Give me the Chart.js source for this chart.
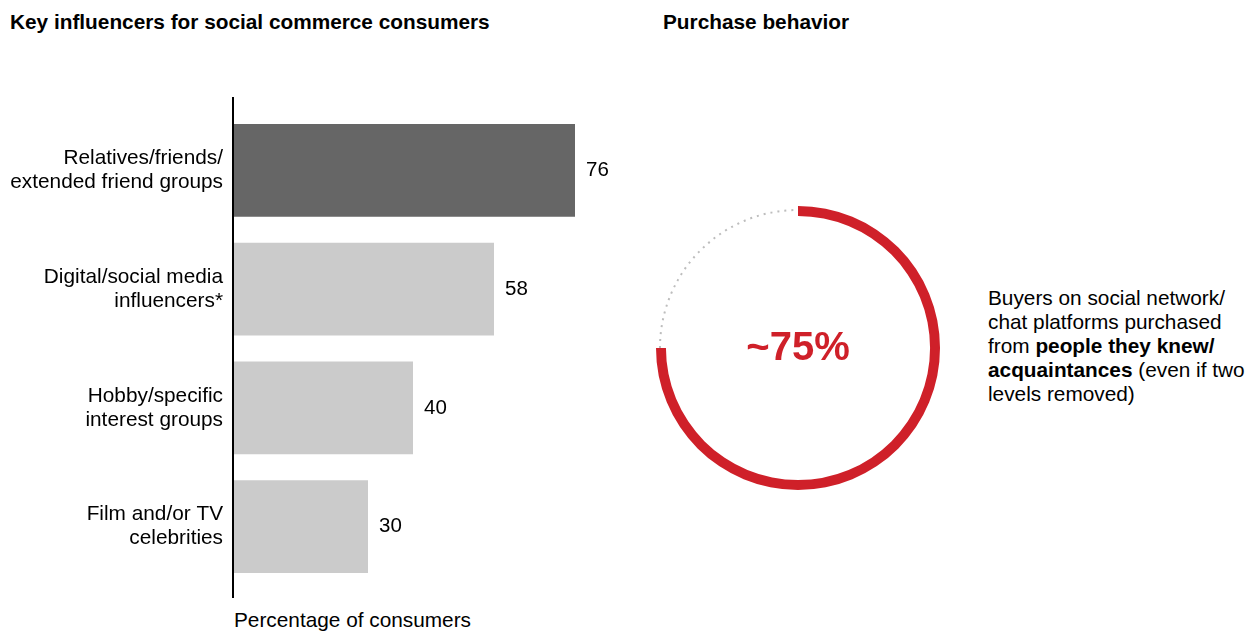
<!DOCTYPE html>
<html>
<head>
<meta charset="utf-8">
<script src="https://cdn.jsdelivr.net/npm/chart.js@4.4.1/dist/chart.umd.min.js"></script>
<style>
    body { margin: 0; background: #fff; width: 1257px; height: 632px; position: relative; overflow: hidden;
           font-family: "Liberation Sans", Arial, sans-serif; color: #000; }
    .txt { position: absolute; font-size: 20.8px; line-height: 24px; white-space: nowrap; }
    .title { font-weight: bold; }
    #barBox { position: absolute; left: 0; top: 0; width: 640px; height: 632px; }
    #ringBox { position: absolute; left: 648px; top: 198px; width: 300px; height: 300px; }
</style>
</head>
<body>
<div class="txt title" style="left:10px; top:10px;">Key influencers for social commerce consumers</div>
<div class="txt title" style="left:663px; top:10px;">Purchase behavior</div>
<div class="txt" style="left:234px; top:608px;">Percentage of consumers</div>
<div class="txt" style="left:988px; top:286px;">Buyers on social network/<br>chat platforms purchased<br>from <b>people they knew/</b><br><b>acquaintances</b> (even if two<br>levels removed)</div>

<div id="barBox"><canvas id="bars"></canvas></div>
<div id="ringBox"><canvas id="ring"></canvas></div>

<script>
const categories = [
    ['Relatives/friends/', 'extended friend groups'],
    ['Digital/social media', 'influencers*'],
    ['Hobby/specific', 'interest groups'],
    ['Film and/or TV', 'celebrities']
];
const shares = [76, 58, 40, 30];
const barColors = ['#666666', '#cbcbcb', '#cbcbcb', '#cbcbcb'];

const ringValues = [75, 25];
const ringLabel = '~75%';

const FONT = '"Liberation Sans", Arial, sans-serif';
const RED = '#cf2029';

// value labels right of each bar + the vertical axis line
const barExtras = {
    id: 'barExtras',
    afterDatasetsDraw(chart) {
        const { ctx, chartArea } = chart;
        const meta = chart.getDatasetMeta(0);
        ctx.save();
        ctx.font = '20.5px ' + FONT;
        ctx.fillStyle = '#000';
        ctx.textAlign = 'left';
        ctx.textBaseline = 'middle';
        meta.data.forEach((bar, i) => {
            ctx.fillText(String(shares[i]), bar.x + 11, bar.y);
        });
        ctx.beginPath();
        ctx.moveTo(chartArea.left, chartArea.top - 14);
        ctx.lineTo(chartArea.left, chartArea.bottom + 12);
        ctx.lineWidth = 2;
        ctx.strokeStyle = '#000';
        ctx.stroke();
        ctx.restore();
    }
};

new Chart(document.getElementById('bars'), {
    type: 'bar',
    data: {
        labels: categories,
        datasets: [{
            data: shares,
            backgroundColor: barColors,
            borderWidth: 0,
            categoryPercentage: 1,
            barPercentage: 0.783
        }]
    },
    options: {
        indexAxis: 'y',
        responsive: true,
        maintainAspectRatio: false,
        animation: false,
        layout: { padding: { top: 111, bottom: 46, left: 0, right: 2 } },
        plugins: { legend: { display: false }, tooltip: { enabled: false } },
        scales: {
            x: { display: false, min: 0, max: 90 },
            y: {
                border: { display: false },
                grid: { display: false, drawTicks: false },
                ticks: {
                    color: '#000',
                    padding: 10,
                    font: { family: FONT, size: 20.8, lineHeight: 24 / 20.8 }
                },
                afterFit: (scale) => { scale.width = 233; }
            }
        }
    },
    plugins: [barExtras]
});

// dotted remainder arc + centre percentage
const ringExtras = {
    id: 'ringExtras',
    afterDatasetsDraw(chart) {
        const { ctx } = chart;
        const rest = chart.getDatasetMeta(0).data[1];
        const r = (rest.outerRadius + rest.innerRadius) / 2 + 1;
        ctx.save();
        ctx.beginPath();
        ctx.arc(rest.x, rest.y, r, rest.startAngle, rest.endAngle);
        ctx.setLineDash([2, 5]);
        ctx.lineWidth = 2;
        ctx.strokeStyle = '#bdbdbd';
        ctx.stroke();
        ctx.setLineDash([]);
        ctx.font = 'bold 40px ' + FONT;
        ctx.fillStyle = RED;
        ctx.textAlign = 'center';
        ctx.textBaseline = 'alphabetic';
        ctx.fillText(ringLabel, rest.x, rest.y + 12);
        ctx.restore();
    }
};

new Chart(document.getElementById('ring'), {
    type: 'doughnut',
    data: {
        labels: ['Known people', 'Other'],
        datasets: [{
            data: ringValues,
            backgroundColor: [RED, 'rgba(0,0,0,0)'],
            borderWidth: 0
        }]
    },
    options: {
        responsive: true,
        maintainAspectRatio: false,
        animation: false,
        cutout: '93%',
        layout: { padding: 8 },
        plugins: { legend: { display: false }, tooltip: { enabled: false } }
    },
    plugins: [ringExtras]
});
</script>
</body>
</html>
